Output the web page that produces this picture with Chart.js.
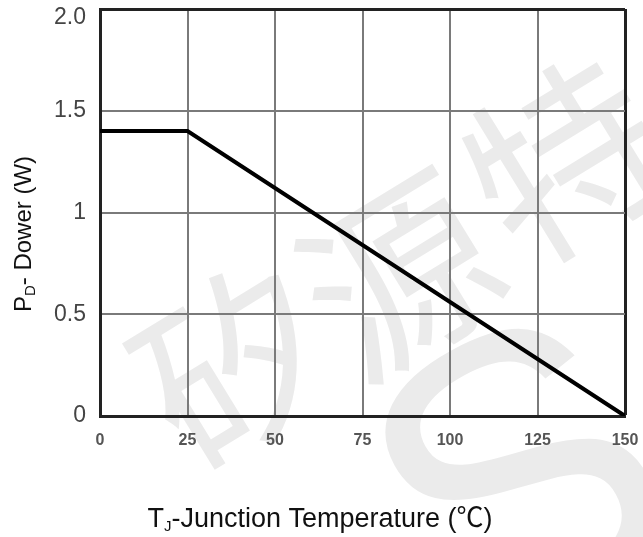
<!DOCTYPE html>
<html>
<head>
<meta charset="utf-8">
<script src="https://cdn.jsdelivr.net/npm/chart.js@4"></script>
<style>
  html, body { margin: 0; padding: 0; background: #fff; }
  #wrap { width: 643px; height: 537px; position: relative; }
</style>
</head>
<body>
<div id="wrap"><canvas id="derating"></canvas></div>
<script>
// derating curve: junction temperature vs allowed dissipation
const tempC = [0, 25, 150];
const powerW = [1.4, 1.4, 0];
const xTicks = [0, 25, 50, 75, 100, 125, 150];
const yTicks = ['0', '0.5', '1', '1.5', '2.0'];

const FONT = '"Liberation Sans", Arial, sans-serif';

// faint watermark behind the plot
const watermark = {
    id: 'watermark',
    beforeDraw(chart) {
        const ctx = chart.ctx;
        ctx.save();
        ctx.fillStyle = '#ebebeb';
        ctx.font = '190px "Noto Sans CJK SC"';
        ctx.textAlign = 'center';
        ctx.textBaseline = 'middle';
        [['矽', 235, 365], ['源', 400, 275], ['特', 565, 160]].forEach(([ch, x, y]) => {
            ctx.save();
            ctx.translate(x, y);
            ctx.rotate(-0.55);
            ctx.fillText(ch, 0, 0);
            ctx.restore();
        });
        ctx.font = '400px ' + FONT;
        ctx.save();
        ctx.translate(530, 500);
        ctx.rotate(-0.5);
        ctx.fillText('S', 0, 0);
        ctx.restore();
        ctx.restore();
    }
};

// the top tick label sits a little below the frame in the original
const nudgeTopLabel = {
    id: 'nudgeTopLabel',
    beforeDraw(chart) {
        chart.scales.y.getLabelItems().forEach(it => {
            if (it.label === '2.0' && !it._nudged) {
                it.options.translation[1] += 9;
                it._nudged = true;
            }
        });
    }
};

// axis titles with subscripts
const subTitles = {
    id: 'subTitles',
    afterDraw(chart) {
        const ctx = chart.ctx;
        const fontOf = p => p.size + 'px ' + (p.cjk ? '"Noto Sans CJK SC"' : FONT);
        const drawParts = (parts, x, y) => {
            let w = 0;
            parts.forEach(p => { ctx.font = fontOf(p); w += ctx.measureText(p.t).width; });
            let cx = x - w / 2;
            parts.forEach(p => {
                ctx.font = fontOf(p);
                ctx.fillText(p.t, cx, y + (p.sub ? 4 : 0));
                cx += ctx.measureText(p.t).width;
            });
        };
        ctx.save();
        ctx.fillStyle = '#111';
        ctx.textBaseline = 'alphabetic';
        ctx.textAlign = 'left';
        drawParts([
            { t: 'T', size: 27 }, { t: 'J', size: 15, sub: true },
            { t: '-Junction Temperature (', size: 27 }, { t: '℃', size: 27, cjk: true }, { t: ')', size: 27 }
        ], 320, 527);
        ctx.translate(31, 234);
        ctx.rotate(-Math.PI / 2);
        drawParts([{ t: 'P', size: 24 }, { t: 'D', size: 15, sub: true }, { t: '- Dower (W)', size: 24 }], 0, 0);
        ctx.restore();
    }
};

new Chart(document.getElementById('derating'), {
    type: 'line',
    data: {
        datasets: [{
            data: tempC.map((t, i) => ({ x: t, y: powerW[i] })),
            borderColor: '#000',
            borderWidth: 4,
            pointRadius: 0,
            tension: 0,
            fill: false
        }]
    },
    options: {
        responsive: true,
        maintainAspectRatio: false,
        animation: false,
        layout: { padding: { top: 9, right: 18, left: 0, bottom: 0 } },
        plugins: { legend: { display: false }, tooltip: { enabled: false } },
        scales: {
            x: {
                type: 'linear',
                min: 0,
                max: 150,
                afterFit: s => { s.height = 121; s.paddingLeft = 0; s.paddingRight = 0; },
                afterBuildTicks: s => { s.ticks = xTicks.map(v => ({ value: v })); },
                grid: {
                    drawTicks: false,
                    color: c => c.tick && c.tick.value === 150 ? '#222' : '#7a7a7a',
                    lineWidth: c => c.tick && c.tick.value === 150 ? 3 : 2
                },
                border: { display: true, color: '#222', width: 3 },
                ticks: { padding: 15, color: '#555', font: { family: FONT, size: 16, weight: 'bold' } }
            },
            y: {
                min: 0,
                max: 2,
                afterFit: s => { s.width = 100; s.paddingTop = 0; s.paddingBottom = 0; },
                afterBuildTicks: s => { s.ticks = yTicks.map(v => ({ value: parseFloat(v) })); },
                grid: {
                    drawTicks: false,
                    color: c => c.tick && c.tick.value === 2 ? '#222' : '#7a7a7a',
                    lineWidth: c => c.tick && c.tick.value === 2 ? 3 : 2
                },
                border: { display: true, color: '#222', width: 3 },
                ticks: {
                    padding: 14,
                    color: '#444',
                    font: { family: FONT, size: 23 },
                    callback: (v, i) => yTicks[i]
                }
            }
        }
    },
    plugins: [watermark, nudgeTopLabel, subTitles]
});
</script>
</body>
</html>
